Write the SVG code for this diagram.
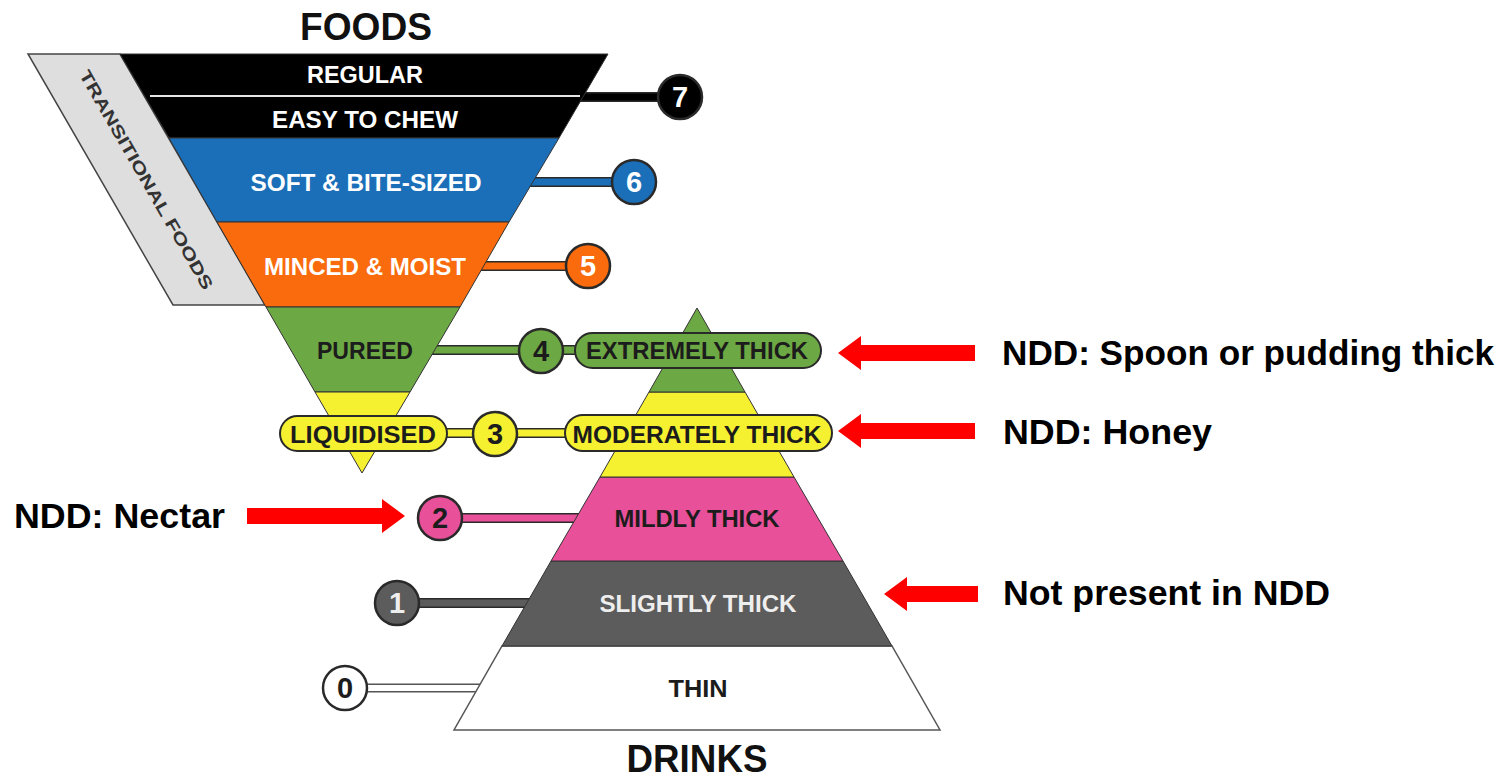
<svg xmlns="http://www.w3.org/2000/svg" width="1509" height="777" viewBox="0 0 1509 777">
<defs>
<style>
.lbl{font-family:"Liberation Sans",Arial,sans-serif;font-weight:bold;text-anchor:middle}
.dk{fill:#1c1c1c}
.wt{fill:#ffffff}
.num{font-family:"Liberation Sans",Arial,sans-serif;font-weight:bold;font-size:29px;text-anchor:middle}
.ndd{font-family:"Liberation Sans",Arial,sans-serif;font-weight:bold;font-size:35px;fill:#000}
.band{stroke:#333;stroke-width:1}
.pill{stroke:#2a2a2a;stroke-width:2}
.circ{stroke:#2a2a2a;stroke-width:2.5}
.cout{stroke:#2a2a2a;stroke-width:10;fill:none}
.arrow{fill:#ff0000}
</style>
</defs>
<rect x="0" y="0" width="1509" height="777" fill="#ffffff"/>

<!-- connectors -->
<g id="connectors">
  <line class="cout" x1="575" y1="97" x2="665" y2="97"/>
  <line x1="575" y1="97" x2="665" y2="97" stroke="#000" stroke-width="7"/>
  <line class="cout" x1="528" y1="182" x2="618" y2="182"/>
  <line x1="528" y1="182" x2="618" y2="182" stroke="#1b6fb8" stroke-width="7"/>
  <line class="cout" x1="478" y1="266" x2="572" y2="266"/>
  <line x1="478" y1="266" x2="572" y2="266" stroke="#f96b0c" stroke-width="7"/>
  <line class="cout" x1="428" y1="350" x2="580" y2="350"/>
  <line x1="428" y1="350" x2="580" y2="350" stroke="#6ca844" stroke-width="7"/>
  <line class="cout" x1="440" y1="433" x2="570" y2="433"/>
  <line x1="440" y1="433" x2="570" y2="433" stroke="#f5f130" stroke-width="7"/>
  <line class="cout" x1="455" y1="518" x2="585" y2="518"/>
  <line x1="455" y1="518" x2="585" y2="518" stroke="#e8509a" stroke-width="7"/>
  <line class="cout" x1="410" y1="603" x2="535" y2="603"/>
  <line x1="410" y1="603" x2="535" y2="603" stroke="#5c5c5c" stroke-width="7"/>
  <line x1="360" y1="688" x2="485" y2="688" stroke="#555" stroke-width="9"/>
  <line x1="360" y1="688" x2="485" y2="688" stroke="#ffffff" stroke-width="6"/>
  <path class="arrow" d="M975,345 L861,345 L861,336 L838,353 L861,370 L861,361 L975,361 Z"/>
  <path class="arrow" d="M975,423 L861,423 L861,414 L838,431 L861,448 L861,439 L975,439 Z"/>
  <path class="arrow" d="M247,508 L382,508 L382,499 L405,516 L382,533 L382,524 L247,524 Z"/>
  <path class="arrow" d="M978,586 L907,586 L907,577 L884,594 L907,611 L907,602 L978,602 Z"/>
</g>

<!-- transitional foods -->
<g id="transitional">
  <polygon points="28,54 120,54 265,305 173,305" fill="#dedede" stroke="#444" stroke-width="1.5"/>
  <text class="lbl" x="146" y="180" font-size="17" fill="#333" dominant-baseline="central" transform="rotate(60 146 180)" textLength="250" lengthAdjust="spacingAndGlyphs">TRANSITIONAL FOODS</text>
</g>

<!-- foods funnel -->
<g id="level7">
  <polygon class="band" points="120,54 608,54 559,138 169,138" fill="#000"/>
  <line x1="150" y1="96" x2="580" y2="96" stroke="#e6e6e6" stroke-width="2"/>
  <text class="lbl wt" x="365" y="83" font-size="23" textLength="116" lengthAdjust="spacingAndGlyphs">REGULAR</text>
  <text class="lbl wt" x="365" y="128" font-size="23" textLength="186" lengthAdjust="spacingAndGlyphs">EASY TO CHEW</text>
</g>
<g id="level6">
  <polygon class="band" points="169,138 559,138 509,222 217,222" fill="#1b6fb8"/>
  <text class="lbl wt" x="366" y="191" font-size="23" textLength="231" lengthAdjust="spacingAndGlyphs">SOFT &amp; BITE-SIZED</text>
</g>
<g id="level5">
  <polygon class="band" points="217,222 509,222 460,307 266,307" fill="#f96b0c"/>
  <text class="lbl wt" x="365" y="275" font-size="23" textLength="202" lengthAdjust="spacingAndGlyphs">MINCED &amp; MOIST</text>
</g>
<g id="level4food">
  <polygon class="band" points="266,307 460,307 410,392 315,392" fill="#6ca844"/>
  <text class="lbl dk" x="365" y="359" font-size="23" textLength="96" lengthAdjust="spacingAndGlyphs">PUREED</text>
</g>
<g id="level3food">
  <polygon class="band" points="315,392 410,392 362,473" fill="#f5f130"/>
  <rect class="pill" x="280" y="416" width="167" height="35" rx="17.5" fill="#f5f130"/>
  <text class="lbl dk" x="363" y="443" font-size="23" textLength="146" lengthAdjust="spacingAndGlyphs">LIQUIDISED</text>
</g>

<!-- drinks pyramid -->
<g id="level0">
  <polygon points="502,646 892,646 940,730 454,730" fill="#ffffff" stroke="#555" stroke-width="1.5"/>
  <text class="lbl dk" x="698" y="697" font-size="23" textLength="59" lengthAdjust="spacingAndGlyphs">THIN</text>
</g>
<g id="level1">
  <polygon class="band" points="551,561 843,561 892,646 502,646" fill="#5c5c5c"/>
  <text class="lbl" x="698" y="612" font-size="23" fill="#eeeeee" textLength="197" lengthAdjust="spacingAndGlyphs">SLIGHTLY THICK</text>
</g>
<g id="level2">
  <polygon class="band" points="600,477 794,477 843,561 551,561" fill="#e8509a"/>
  <text class="lbl dk" x="697" y="527" font-size="23" textLength="165" lengthAdjust="spacingAndGlyphs">MILDLY THICK</text>
</g>
<g id="level3drink">
  <polygon class="band" points="649,392 745,392 794,477 600,477" fill="#f5f130"/>
  <rect class="pill" x="565" y="415" width="267" height="36" rx="18" fill="#f5f130"/>
  <text class="lbl dk" x="697" y="443" font-size="23" textLength="249" lengthAdjust="spacingAndGlyphs">MODERATELY THICK</text>
</g>
<g id="level4drink">
  <polygon class="band" points="697,308 745,392 649,392" fill="#6ca844"/>
  <rect class="pill" x="575" y="333" width="246" height="35" rx="17.5" fill="#6ca844"/>
  <text class="lbl dk" x="697" y="359" font-size="23" textLength="222" lengthAdjust="spacingAndGlyphs">EXTREMELY THICK</text>
</g>

<!-- number circles -->
<g id="n7"><circle class="circ" cx="680" cy="97" r="22" fill="#000"/><text class="num wt" x="680" y="107">7</text></g>
<g id="n6"><circle class="circ" cx="634" cy="182" r="22" fill="#1b6fb8"/><text class="num wt" x="634" y="192">6</text></g>
<g id="n5"><circle class="circ" cx="588" cy="266" r="22" fill="#f96b0c"/><text class="num wt" x="588" y="276">5</text></g>
<g id="n4"><circle class="circ" cx="541" cy="351" r="22" fill="#6ca844"/><text class="num dk" x="541" y="361">4</text></g>
<g id="n3"><circle class="circ" cx="495" cy="434" r="22" fill="#f5f130"/><text class="num dk" x="495" y="444">3</text></g>
<g id="n2"><circle class="circ" cx="440" cy="518" r="22" fill="#e8509a"/><text class="num dk" x="440" y="528">2</text></g>
<g id="n1"><circle class="circ" cx="397" cy="603" r="22" fill="#5c5c5c"/><text class="num" x="397" y="613" fill="#eeeeee">1</text></g>
<g id="n0"><circle class="circ" cx="345" cy="688" r="22" fill="#ffffff"/><text class="num dk" x="345" y="698">0</text></g>

<!-- titles -->
<text class="lbl" x="366" y="40" font-size="38" fill="#111" textLength="132" lengthAdjust="spacingAndGlyphs">FOODS</text>
<text class="lbl" x="697" y="772" font-size="38" fill="#111" textLength="141" lengthAdjust="spacingAndGlyphs">DRINKS</text>

<!-- NDD notes -->
<text class="ndd" x="1002" y="365" textLength="492" lengthAdjust="spacingAndGlyphs">NDD: Spoon or pudding thick</text>
<text class="ndd" x="1003" y="444" textLength="209" lengthAdjust="spacingAndGlyphs">NDD: Honey</text>
<text class="ndd" x="14" y="528" textLength="211" lengthAdjust="spacingAndGlyphs">NDD: Nectar</text>
<text class="ndd" x="1003" y="605" textLength="327" lengthAdjust="spacingAndGlyphs">Not present in NDD</text>
</svg>
